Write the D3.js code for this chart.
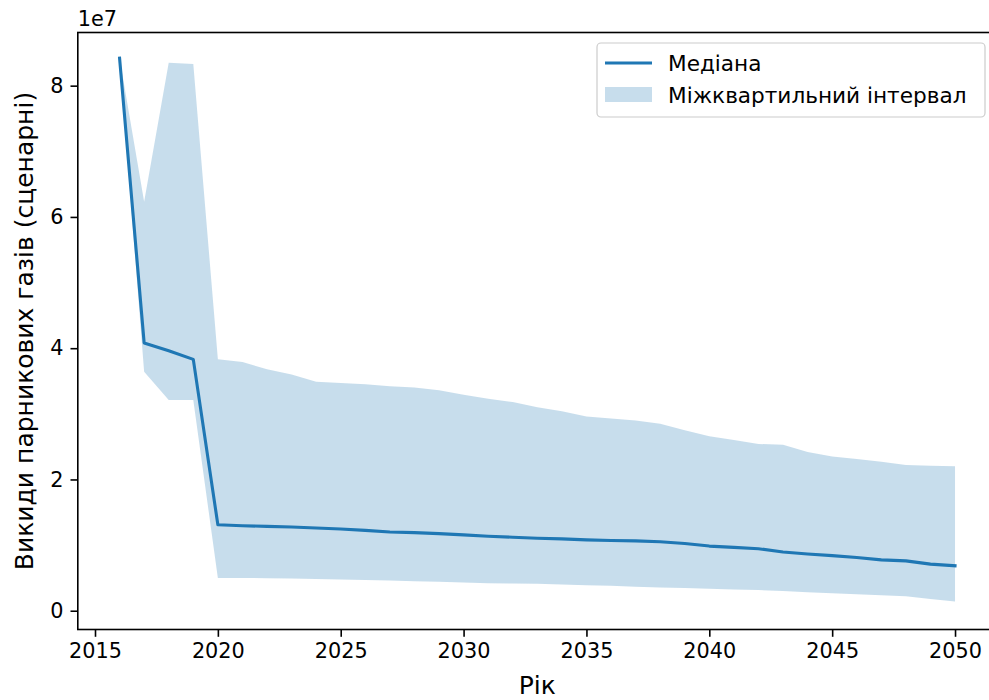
<!DOCTYPE html>
<html>
<head>
<meta charset="utf-8">
<script src="https://cdn.jsdelivr.net/npm/d3@7"></script>
<style>
  body { margin: 0; background: #fff; }
  svg { display: block; font-family: "DejaVu Sans", sans-serif; }
</style>
</head>
<body>
<div id="chart"></div>
<script>
// years on the x axis
const years = [2016, 2017, 2018, 2019, 2020, 2021, 2022, 2023, 2024, 2025,
  2026, 2027, 2028, 2029, 2030, 2031, 2032, 2033, 2034, 2035,
  2036, 2037, 2038, 2039, 2040, 2041, 2042, 2043, 2044, 2045,
  2046, 2047, 2048, 2049, 2050];

// median emissions
const median = [8.42e7, 4.08e7, 3.96e7, 3.83e7, 1.31e7, 1.295e7, 1.285e7, 1.275e7, 1.26e7, 1.245e7,
  1.225e7, 1.2e7, 1.19e7, 1.175e7, 1.155e7, 1.135e7, 1.12e7, 1.105e7, 1.095e7, 1.08e7,
  1.07e7, 1.065e7, 1.05e7, 1.025e7, 9.85e6, 9.65e6, 9.45e6, 8.95e6, 8.65e6, 8.4e6,
  8.1e6, 7.75e6, 7.6e6, 7.1e6, 6.85e6];

// lower quartile
const q1 = [8.42e7, 3.64e7, 3.21e7, 3.21e7, 5.0e6, 5.0e6, 4.95e6, 4.9e6, 4.85e6, 4.75e6,
  4.7e6, 4.6e6, 4.5e6, 4.4e6, 4.3e6, 4.2e6, 4.15e6, 4.1e6, 4.0e6, 3.9e6,
  3.8e6, 3.65e6, 3.55e6, 3.45e6, 3.35e6, 3.25e6, 3.15e6, 3.0e6, 2.8e6, 2.65e6,
  2.5e6, 2.35e6, 2.2e6, 1.8e6, 1.4e6];

// upper quartile
const q3 = [8.42e7, 6.23e7, 8.35e7, 8.33e7, 3.83e7, 3.79e7, 3.68e7, 3.6e7, 3.49e7, 3.47e7,
  3.45e7, 3.42e7, 3.4e7, 3.36e7, 3.29e7, 3.23e7, 3.18e7, 3.1e7, 3.04e7, 2.96e7,
  2.93e7, 2.9e7, 2.85e7, 2.75e7, 2.66e7, 2.6e7, 2.54e7, 2.53e7, 2.42e7, 2.35e7,
  2.31e7, 2.27e7, 2.22e7, 2.21e7, 2.2e7];

const xTicks = [2015, 2020, 2025, 2030, 2035, 2040, 2045, 2050];
const yTicks = [0, 2e7, 4e7, 6e7, 8e7];

const labels = {
  median: 'Медіана',
  iqr: 'Міжквартильний інтервал',
  x: 'Рік',
  y: 'Викиди парникових газів (сценарні)',
  offset: '1e7'
};

const data = years.map((yr, i) => ({ year: yr, med: median[i], lo: q1[i], hi: q3[i] }));

const width = 989, height = 700;
const plot = { left: 77.8, right: 996.8, top: 32.5, bottom: 629.5 };
const blue = '#1f77b4';
const tickFont = '20.8px';
const legendFont = '21.6px';
const labelFont = '25px';

const svg = d3.select('#chart')
  .append('svg')
  .attr('width', width)
  .attr('height', height);

const x = d3.scaleLinear()
  .domain([2014.3, 2051.7])
  .range([plot.left, plot.right]);

const y = d3.scaleLinear()
  .domain([-2.86e6, 8.81e7])
  .range([plot.bottom, plot.top]);

// interquartile band
const area = d3.area()
  .x(d => x(d.year))
  .y0(d => y(d.lo))
  .y1(d => y(d.hi));

svg.append('path')
  .datum(data)
  .attr('d', area)
  .attr('fill', blue)
  .attr('fill-opacity', 0.25);

// median line
const line = d3.line()
  .x(d => x(d.year))
  .y(d => y(d.med));

svg.append('path')
  .datum(data)
  .attr('d', line)
  .attr('fill', 'none')
  .attr('stroke', blue)
  .attr('stroke-width', 3.1)
  .attr('stroke-linejoin', 'round')
  .attr('stroke-linecap', 'square');

// axes
const xAxis = d3.axisBottom(x)
  .tickValues(xTicks)
  .tickFormat(d3.format('d'))
  .tickSize(7.3)
  .tickPadding(6);

const yAxis = d3.axisLeft(y)
  .tickValues(yTicks)
  .tickFormat(d => d / 1e7)
  .tickSize(7.3)
  .tickPadding(7);

const xAxisGroup = svg.append('g')
  .attr('transform', `translate(0, ${plot.bottom})`)
  .call(xAxis);
const yAxisGroup = svg.append('g')
  .attr('transform', `translate(${plot.left}, 0)`)
  .call(yAxis);

[xAxisGroup, yAxisGroup].forEach(g => {
  g.select('.domain').remove();
  g.selectAll('.tick line').attr('stroke', '#000').attr('stroke-width', 1.6);
  g.selectAll('.tick text')
    .attr('fill', '#000')
    .style('font-family', '"DejaVu Sans", sans-serif')
    .style('font-size', tickFont);
});

// spines
svg.append('rect')
  .attr('x', plot.left)
  .attr('y', plot.top)
  .attr('width', plot.right - plot.left)
  .attr('height', plot.bottom - plot.top)
  .attr('fill', 'none')
  .attr('stroke', '#000')
  .attr('stroke-width', 1.6);

// offset text
svg.append('text')
  .attr('x', plot.left)
  .attr('y', 26)
  .style('font-size', tickFont)
  .text(labels.offset);

// axis labels
svg.append('text')
  .attr('x', (plot.left + plot.right) / 2)
  .attr('y', 694)
  .attr('text-anchor', 'middle')
  .style('font-size', labelFont)
  .text(labels.x);

svg.append('text')
  .attr('transform', `translate(33, ${(plot.top + plot.bottom) / 2}) rotate(-90)`)
  .attr('text-anchor', 'middle')
  .style('font-size', labelFont)
  .text(labels.y);

// legend
const legend = svg.append('g');
legend.append('rect')
  .attr('x', 597)
  .attr('y', 43)
  .attr('width', 388)
  .attr('height', 74)
  .attr('rx', 4)
  .attr('fill', '#fff')
  .attr('fill-opacity', 0.8)
  .attr('stroke', '#cccccc')
  .attr('stroke-width', 1.2);

legend.append('line')
  .attr('x1', 605).attr('x2', 652)
  .attr('y1', 63).attr('y2', 63)
  .attr('stroke', blue)
  .attr('stroke-width', 3.1);

legend.append('rect')
  .attr('x', 605).attr('y', 87)
  .attr('width', 47).attr('height', 15)
  .attr('fill', blue)
  .attr('fill-opacity', 0.25);

legend.append('text')
  .attr('x', 668).attr('y', 71)
  .style('font-size', legendFont)
  .text(labels.median);

legend.append('text')
  .attr('x', 668).attr('y', 102.5)
  .style('font-size', legendFont)
  .text(labels.iqr);
</script>
</body>
</html>
